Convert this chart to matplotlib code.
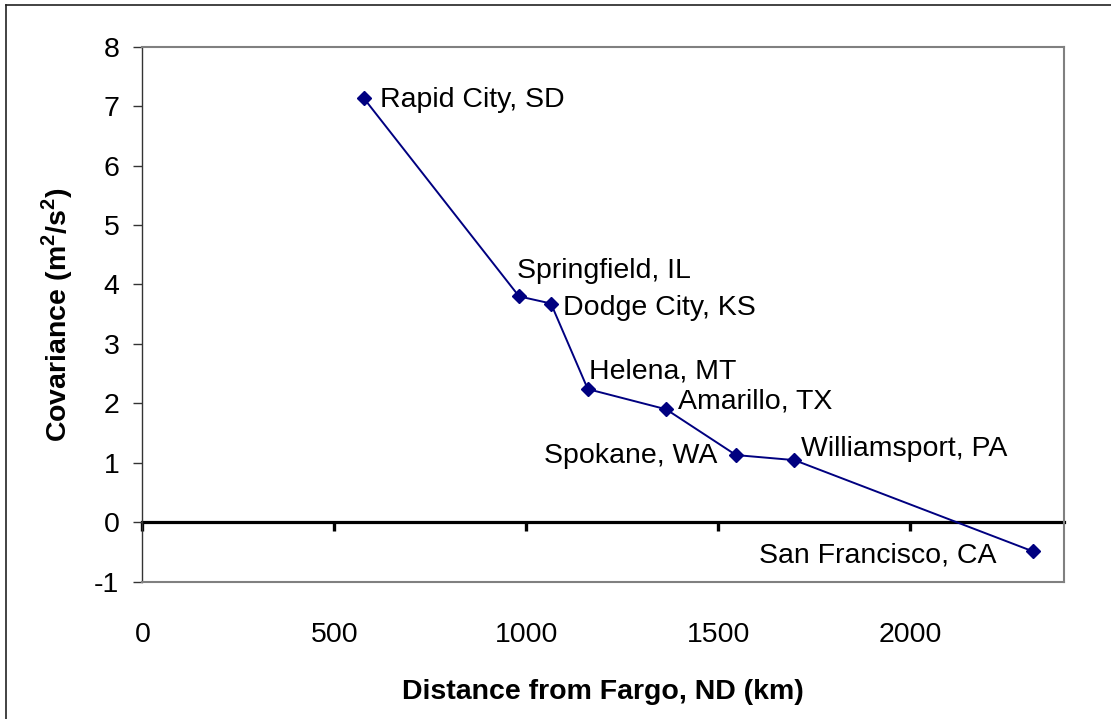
import matplotlib
matplotlib.use("Agg")
import matplotlib.pyplot as plt
from matplotlib.lines import Line2D

# Covariance vs distance from Fargo, ND
cities = ["Rapid City, SD", "Springfield, IL", "Dodge City, KS", "Helena, MT",
          "Amarillo, TX", "Spokane, WA", "Williamsport, PA", "San Francisco, CA"]
distance_km = [576, 981, 1064, 1160, 1364, 1546, 1698, 2319]
covariance = [7.14, 3.80, 3.68, 2.24, 1.90, 1.13, 1.045, -0.49]

# label offsets (points) and horizontal alignment, Excel-style placement
label_offsets = [(12, -1.7), (-1.5, 18), (8.6, -2.9), (1, 13),
                 (8.6, 5.8), (-13.7, -1), (5, 8), (-26.4, -2.7)]
label_ha = ["left", "left", "left", "left", "left", "right", "left", "right"]

x_ticks = [0, 500, 1000, 1500, 2000]
y_ticks = list(range(-1, 9))

plt.rcParams["font.family"] = ["Liberation Sans", "DejaVu Sans"]
plt.rcParams["axes.unicode_minus"] = False
plt.rcParams["mathtext.fontset"] = "custom"
plt.rcParams["mathtext.rm"] = "Liberation Sans"
plt.rcParams["mathtext.bf"] = "Liberation Sans:bold"
fs = 20.5
navy = "#000080"

fig = plt.figure(figsize=(11.11, 7.19), dpi=100)
ax = fig.add_axes([0.1281, 0.1910, 0.8296, 0.7440])

ax.plot(distance_km, covariance, color=navy, lw=1.4, marker="D", ms=7,
        mfc=navy, mec=navy, zorder=3)

for name, x, y, off, ha in zip(cities, distance_km, covariance, label_offsets, label_ha):
    ax.annotate(name, (x, y), xytext=off, textcoords="offset points",
                ha=ha, va="center", fontsize=fs, color="black")

ax.set_xlim(0, 2400)
ax.set_ylim(-1, 8)
ax.set_xticks(x_ticks)
ax.set_yticks(y_ticks)

# spines
for side in ["top", "right", "bottom"]:
    ax.spines[side].set_color("#808080")
    ax.spines[side].set_linewidth(1.5)
ax.spines["left"].set_color("#333333")
ax.spines["left"].set_linewidth(1.0)

ax.tick_params(axis="x", length=0, labelsize=fs, pad=29)
ax.tick_params(axis="y", direction="out", length=6.5, width=1.0,
               color="#333333", labelsize=fs, pad=10)

# x axis crossing at zero with its tick marks
zero_pos = (0 - (-1)) / 9.0
sec = ax.secondary_xaxis(zero_pos)
sec.set_xticks(x_ticks)
sec.tick_params(axis="x", direction="out", length=6.5, width=2.4,
                color="black", labelbottom=False, labeltop=False)
sec.spines["bottom"].set_linewidth(2.3)
sec.spines["bottom"].set_color("black")

ax.set_xlabel("Distance from Fargo, ND (km)", fontsize=fs, fontweight="bold")
ax.xaxis.label.set_va("center")
ax.xaxis.set_label_coords(0.5, -0.207)
ax.set_ylabel(r"Covariance (m$^\mathbf{2}$/s$^\mathbf{2}$)", fontsize=fs,
              fontweight="bold")
ax.yaxis.label.set_va("center")
ax.yaxis.set_label_coords(-0.092, 0.5)

# outer chart border (top and left only visible)
fig.add_artist(Line2D([0.0054, 1.0], [0.993, 0.993], transform=fig.transFigure,
                      color="#222222", lw=1.2))
fig.add_artist(Line2D([0.0054, 0.0054], [0.0, 0.993], transform=fig.transFigure,
                      color="#222222", lw=1.2))

fig.savefig("out.png", dpi=100)
